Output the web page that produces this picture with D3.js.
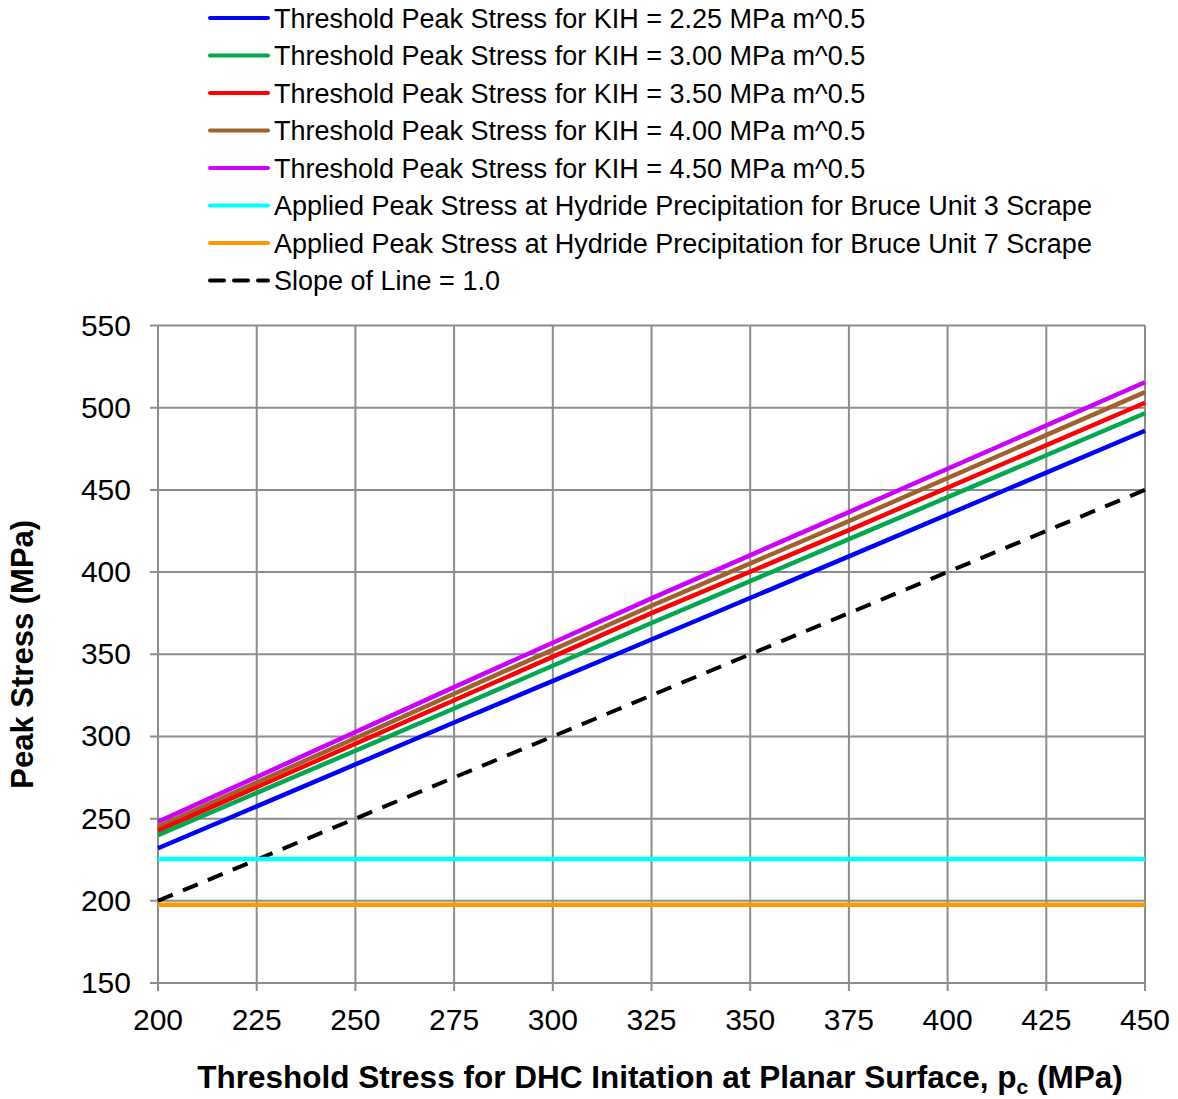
<!DOCTYPE html>
<html>
<head>
<meta charset="utf-8">
<script src="https://cdn.jsdelivr.net/npm/d3@7"></script>
<style>
  body { margin: 0; background: #fff; }
  svg { font-family: "Liberation Sans", Arial, sans-serif; }
</style>
</head>
<body>
<div id="chart"></div>
<script>
// threshold stress p_c (MPa) where values were read
const xVals = [200, 275, 325, 375, 450];
const kih225 = [232, 308.5, 359, 409.5, 486];
const kih300 = [240, 317, 369, 420, 496.6];
const kih350 = [242.7, 322, 375, 425.5, 503];
const kih400 = [245, 326, 379.5, 431, 509.5];
const kih450 = [248, 330, 384, 436.5, 515.5];
const unit3X = [200, 450];
const unit3 = [225.5, 225.5];
const unit7X = [200, 450];
const unit7 = [197.6, 197.6];
const slopeX = [200, 450];
const slopeY = [200, 450];
const xTicks = [200, 225, 250, 275, 300, 325, 350, 375, 400, 425, 450];
const yTicks = [150, 200, 250, 300, 350, 400, 450, 500, 550];

const series = [
  { name: "Threshold Peak Stress for KIH = 2.25 MPa m^0.5", xs: xVals, ys: kih225, color: "#0000ff" },
  { name: "Threshold Peak Stress for KIH = 3.00 MPa m^0.5", xs: xVals, ys: kih300, color: "#00a850" },
  { name: "Threshold Peak Stress for KIH = 3.50 MPa m^0.5", xs: xVals, ys: kih350, color: "#ff0000" },
  { name: "Threshold Peak Stress for KIH = 4.00 MPa m^0.5", xs: xVals, ys: kih400, color: "#a0622d" },
  { name: "Threshold Peak Stress for KIH = 4.50 MPa m^0.5", xs: xVals, ys: kih450, color: "#cc00ff" },
  { name: "Applied Peak Stress at Hydride Precipitation for Bruce Unit 3 Scrape", xs: unit3X, ys: unit3, color: "#00ffff" },
  { name: "Applied Peak Stress at Hydride Precipitation for Bruce Unit 7 Scrape", xs: unit7X, ys: unit7, color: "#ff9900" },
  { name: "Slope of Line = 1.0", xs: slopeX, ys: slopeY, color: "#000000", dash: "16,11" }
];

const width = 1178, height = 1099;
const margin = { left: 158, right: 33, top: 325.5, bottom: 116 };

const svg = d3.select("#chart").append("svg")
  .attr("width", width)
  .attr("height", height);

const x = d3.scaleLinear().domain([200, 450]).range([margin.left, width - margin.right]);
const y = d3.scaleLinear().domain([150, 550]).range([height - margin.bottom, margin.top]);

// gridlines
const grid = svg.append("g");
grid.selectAll("line.gx").data(xTicks).enter().append("line")
  .attr("x1", d => x(d)).attr("x2", d => x(d))
  .attr("y1", y(550)).attr("y2", y(150) + 8)
  .attr("stroke", "#8c8c8c").attr("stroke-width", 2);
grid.selectAll("line.gy").data(yTicks).enter().append("line")
  .attr("x1", x(200) - 8).attr("x2", x(450))
  .attr("y1", d => y(d)).attr("y2", d => y(d))
  .attr("stroke", "#8c8c8c").attr("stroke-width", 2);

// tick labels
svg.append("g").selectAll("text").data(yTicks).enter().append("text")
  .attr("x", x(200) - 27)
  .attr("y", d => y(d) + 10)
  .attr("text-anchor", "end")
  .style("font-size", "30px")
  .text(d => d);
svg.append("g").selectAll("text").data(xTicks).enter().append("text")
  .attr("x", d => x(d))
  .attr("y", y(150) + 47)
  .attr("text-anchor", "middle")
  .style("font-size", "30px")
  .text(d => d);

// series lines
const line = d3.line().x(d => x(d[0])).y(d => y(d[1]));
svg.append("g").selectAll("path").data(series.slice().reverse()).enter().append("path")
  .attr("d", s => line(s.xs.map((v, i) => [v, s.ys[i]])))
  .attr("fill", "none")
  .attr("stroke", s => s.color)
  .attr("stroke-width", s => s.dash ? 4 : 4.5)
  .attr("stroke-dasharray", s => s.dash || null);

// legend
const legend = svg.append("g");
const rows = legend.selectAll("g").data(series).enter().append("g")
  .attr("transform", (d, i) => `translate(0, ${18 + i * 37.5})`);
rows.append("line")
  .attr("x1", 210).attr("x2", 268)
  .attr("stroke", d => d.color)
  .attr("stroke-width", 4)
  .attr("stroke-linecap", "round")
  .attr("stroke-dasharray", d => d.dash ? "14,10" : null);
rows.append("text")
  .attr("x", 274).attr("y", 9.5)
  .style("font-size", "27px")
  .text(d => d.name);

// axis titles
svg.append("text")
  .attr("transform", `translate(33, ${(y(150) + y(550)) / 2}) rotate(-90)`)
  .attr("text-anchor", "middle")
  .style("font-size", "31px")
  .style("font-weight", "bold")
  .text("Peak Stress (MPa)");

const xt = svg.append("text")
  .attr("x", 660).attr("y", 1088)
  .attr("text-anchor", "middle")
  .style("font-size", "31.5px")
  .style("font-weight", "bold");
xt.append("tspan").text("Threshold Stress for DHC Initation at Planar Surface, p");
xt.append("tspan").attr("dy", 6).style("font-size", "21px").text("c");
xt.append("tspan").attr("dy", -6).text(" (MPa)");
</script>
</body>
</html>
